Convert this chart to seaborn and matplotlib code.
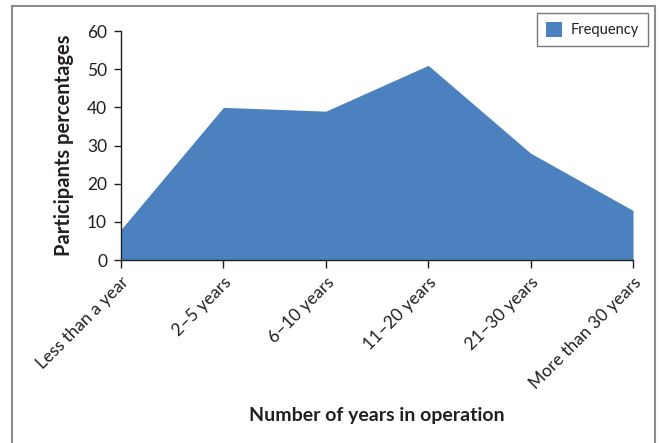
import matplotlib
matplotlib.use("Agg")
import matplotlib.pyplot as plt
from matplotlib.patches import Rectangle, Patch
import seaborn as sns
import pandas as pd

categories = ["Less than a year", "2\u20135 years", "6\u201310 years",
              "11\u201320 years", "21\u201330 years", "More than 30 years"]
percentages = [8, 40, 39, 51, 28, 13]
series_name = "Frequency"
y_ticks = [0, 10, 20, 30, 40, 50, 60]

df = pd.DataFrame({"pos": range(len(categories)), "category": categories,
                   "value": percentages})

sns.set_theme(style="ticks")
plt.rcParams["font.family"] = ["Lato", "DejaVu Sans"]

fill_color = "#4a81be"
text_color = "#231f20"

fig = plt.figure(figsize=(6.6, 4.43), dpi=100)
ax = fig.add_axes([0.1833, 0.413, 0.7758, 0.517])

sns.lineplot(data=df, x="pos", y="value", ax=ax, color=fill_color, linewidth=0)
ax.fill_between(df["pos"], 0, df["value"], color=fill_color, linewidth=0)

ax.set_xlim(0, len(categories) - 1)
ax.set_ylim(0, 60)
ax.set_yticks(y_ticks)
ax.set_xticks(df["pos"])
ax.set_xticklabels(categories, rotation=45, ha="right", rotation_mode="anchor",
                   fontsize=12.5, color=text_color)
ax.tick_params(axis="y", labelsize=12.5, colors=text_color, length=5, width=1, pad=5)
ax.tick_params(axis="x", length=6, width=1, colors=text_color, pad=4)
for lbl in ax.get_yticklabels():
    lbl.set_color(text_color)

for side in ("top", "right"):
    ax.spines[side].set_visible(False)
for side in ("left", "bottom"):
    ax.spines[side].set_color(text_color)
    ax.spines[side].set_linewidth(1)

ax.set_xlabel("")
ax.set_ylabel("Participants percentages", fontsize=14.5, fontweight="bold",
              color=text_color, labelpad=9)
fig.text(0.571, 0.062, "Number of years in operation", ha="center", va="center",
         fontsize=14, fontweight="bold", color=text_color)

leg = fig.legend(handles=[Patch(facecolor=fill_color, edgecolor="none", label=series_name)],
                 loc="upper right", bbox_to_anchor=(648 / 660, 1 - 13 / 443),
                 borderaxespad=0, fontsize=10.5, frameon=True, fancybox=False,
                 handlelength=1.1, handleheight=1.2, borderpad=0.6, handletextpad=0.6)
leg.get_frame().set_edgecolor("#555555")
leg.get_frame().set_linewidth(1)
for t in leg.get_texts():
    t.set_color(text_color)

fig.add_artist(Rectangle((12 / 660, -0.05), (655 - 12) / 660, 1.05 - 6 / 443,
                         transform=fig.transFigure, fill=False,
                         edgecolor="#8c8c8c", linewidth=1.5))

fig.savefig("out.png", dpi=100)
